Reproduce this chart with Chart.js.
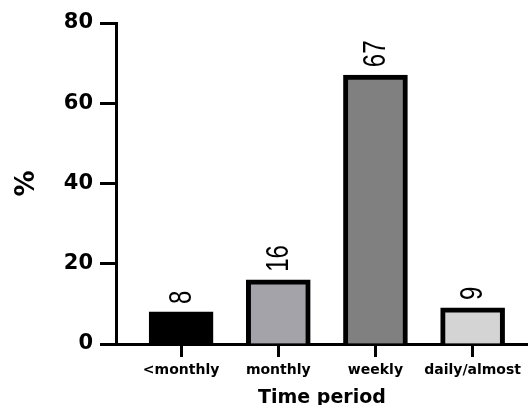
<!DOCTYPE html>
<html>
<head>
<meta charset="utf-8">
<script src="https://cdn.jsdelivr.net/npm/chart.js@4.4.1/dist/chart.umd.min.js"></script>
<style>
  html, body { margin: 0; padding: 0; background: #fff; }
  #wrap { width: 528px; height: 405px; }
</style>
</head>
<body>
<div id="wrap"><canvas id="chart" width="528" height="405"></canvas></div>
<script>
  const categories = ['<monthly', 'monthly', 'weekly', 'daily/almost'];
  const percents = [8, 16, 67, 9];
  const barColors = ['#000000', '#a3a3a9', '#808080', '#d4d4d4'];
  const yTicks = [0, 20, 40, 60, 80];

  const boldFont = '"DejaVu Sans", sans-serif';

  // value labels above the bars, turned on their side (narrowed like the original)
  const barLabels = {
    id: 'barLabels',
    afterDatasetsDraw(chart) {
      const ctx = chart.ctx;
      const meta = chart.getDatasetMeta(0);
      ctx.save();
      ctx.fillStyle = '#000';
      ctx.font = '32px "Liberation Sans", Arial, sans-serif';
      ctx.textAlign = 'left';
      ctx.textBaseline = 'middle';
      meta.data.forEach((bar, i) => {
        ctx.save();
        ctx.translate(bar.x, bar.y - 8);
        ctx.rotate(-Math.PI / 2);
        ctx.scale(0.75, 1);
        ctx.fillText(String(percents[i]), 0, 1);
        ctx.restore();
      });
      ctx.restore();
    }
  };

  new Chart(document.getElementById('chart'), {
    type: 'bar',
    data: {
      datasets: [{
        data: percents.map((v, i) => ({ x: i, y: v })),
        backgroundColor: barColors,
        borderColor: '#000',
        borderWidth: 5,
        borderSkipped: 'bottom',
        barThickness: 64
      }]
    },
    options: {
      responsive: false,
      animation: false,
      layout: { padding: { top: 23, left: 0, right: 0, bottom: 0 } },
      plugins: { legend: { display: false }, tooltip: { enabled: false } },
      scales: {
        x: {
          type: 'linear',
          offset: false,
          min: -0.67,
          max: 3.57,
          afterBuildTicks: (s) => { s.ticks = categories.map((c, i) => ({ value: i })); },
          afterFit: (s) => { s.height = 61; },
          grid: { offset: false, drawOnChartArea: false, drawTicks: true, tickLength: 13, tickWidth: 3, tickColor: '#000' },
          border: { display: true, width: 3, color: '#000' },
          ticks: {
            autoSkip: false,
            maxRotation: 0,
            padding: 5,
            color: '#000',
            font: { family: boldFont, size: 14, weight: 'bold' },
            callback: (v) => categories[v]
          },
          title: {
            display: true,
            text: 'Time period',
            color: '#000',
            font: { family: boldFont, size: 19, weight: 'bold' },
            padding: { top: 0, bottom: -4 }
          }
        },
        y: {
          min: 0,
          max: 80,
          afterBuildTicks: (s) => { s.ticks = yTicks.map(v => ({ value: v })); },
          afterFit: (s) => { s.width = 116; },
          grid: { drawOnChartArea: false, drawTicks: true, tickLength: 16, tickWidth: 3, tickColor: '#000' },
          border: { display: true, width: 3, color: '#000' },
          ticks: {
            padding: 7,
            color: '#000',
            font: { family: boldFont, size: 21, weight: 'bold' }
          },
          title: {
            display: true,
            text: '%',
            color: '#000',
            font: { family: boldFont, size: 26, weight: 'bold' },
            padding: { top: 12, bottom: 0 }
          }
        }
      }
    },
    plugins: [barLabels]
  });
</script>
</body>
</html>
